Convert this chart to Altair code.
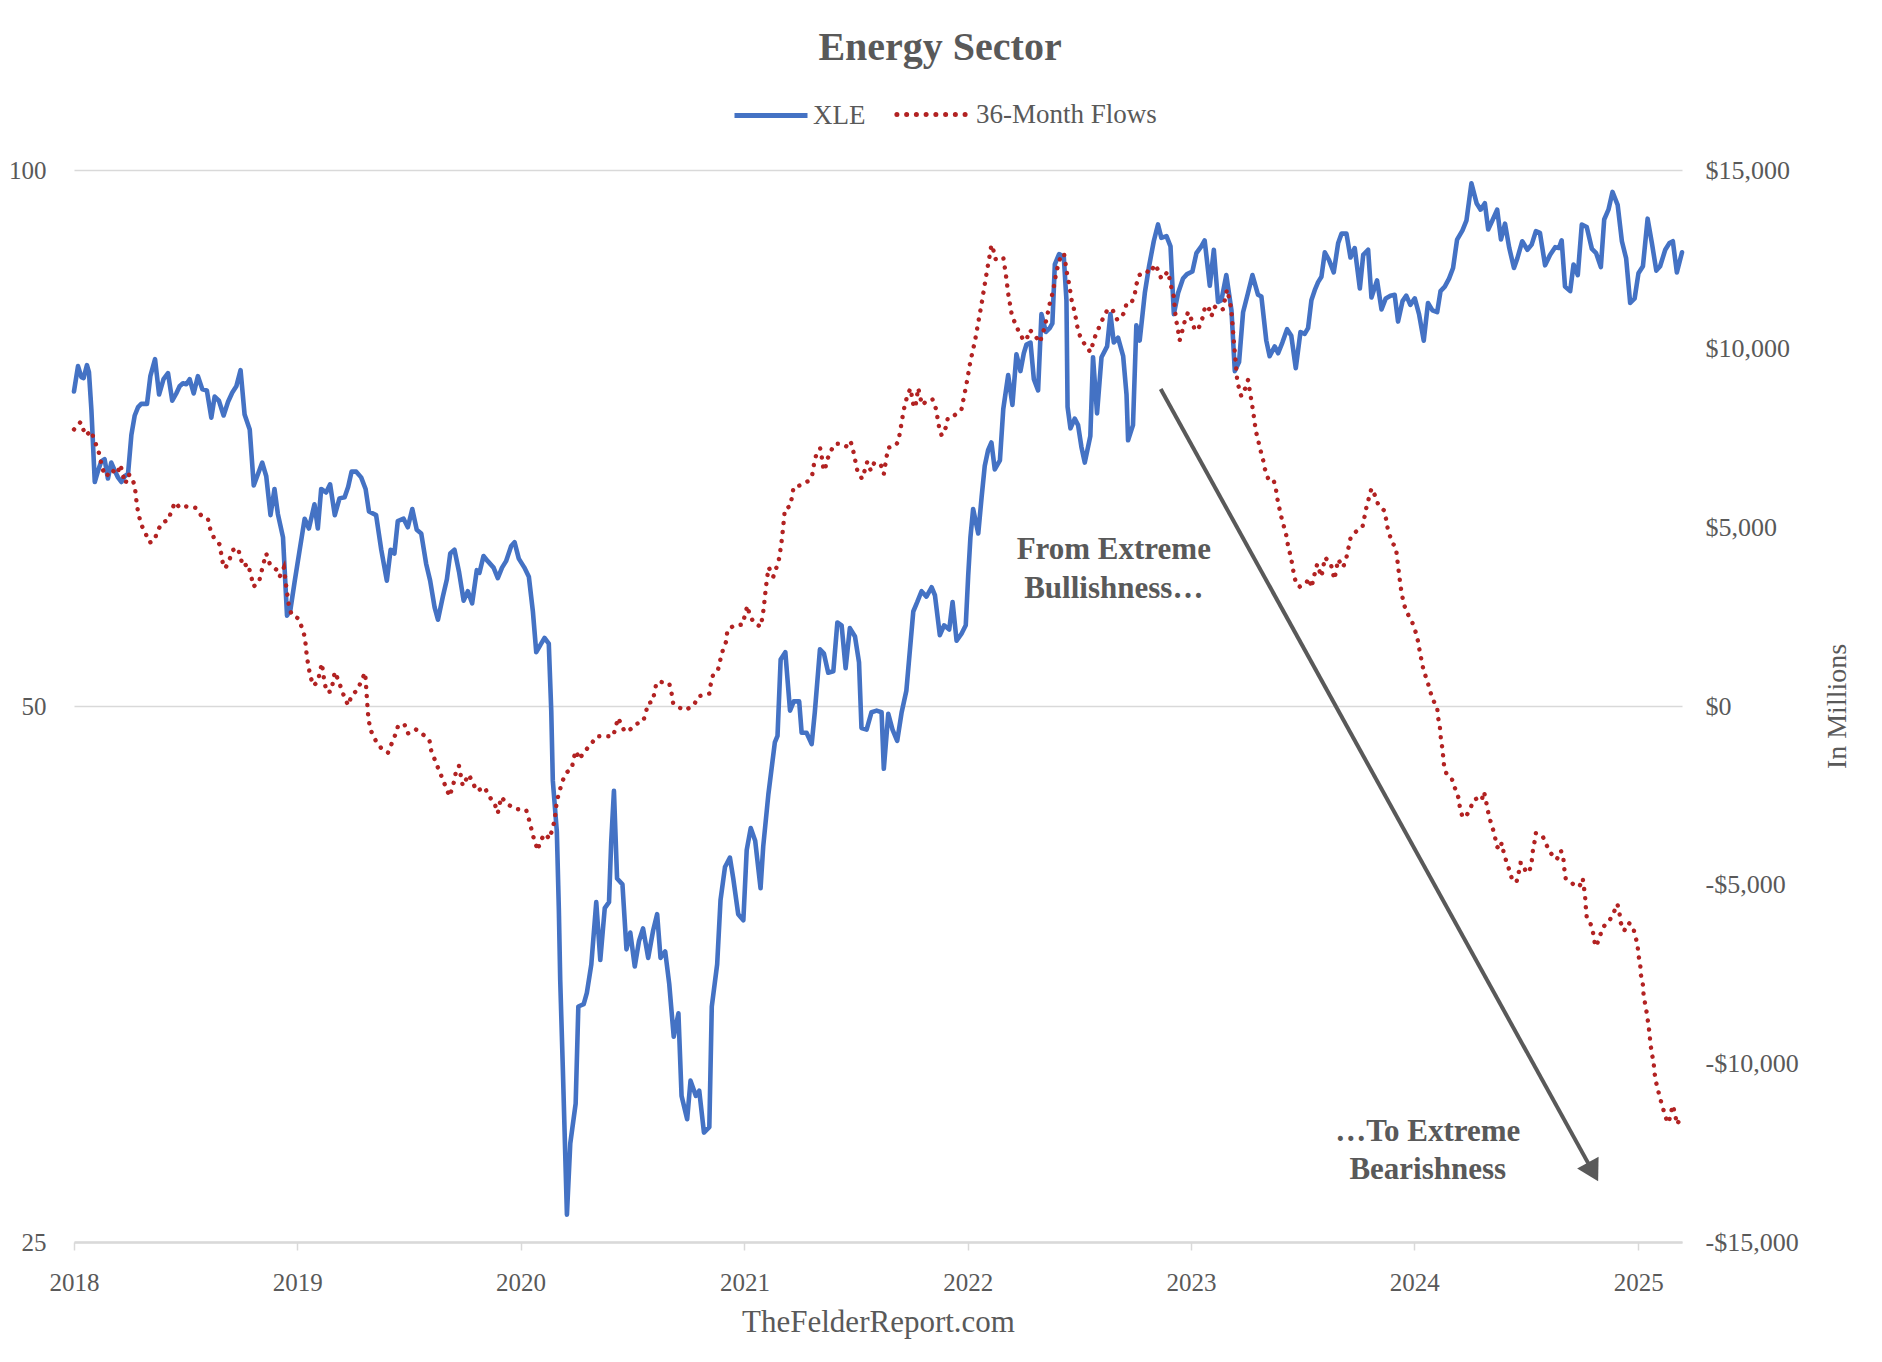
import altair as alt
import pandas as pd

# ---------------- data ----------------
# XLE price (left, log axis); (fractional year, value)
xle_points = [
    (2018.000, 75.1), (2018.018, 77.6), (2018.033, 76.5), (2018.043, 76.4), (2018.058, 77.7), (2018.067, 77.0),
    (2018.078, 73.3), (2018.093, 66.8), (2018.108, 67.8), (2018.122, 68.6), (2018.137, 68.8), (2018.152, 67.1),
    (2018.167, 68.5), (2018.182, 67.8), (2018.197, 67.2), (2018.212, 66.8), (2018.227, 67.3), (2018.242, 67.5),
    (2018.257, 71.0), (2018.272, 72.8), (2018.287, 73.6), (2018.301, 73.9), (2018.327, 73.9), (2018.342, 76.6),
    (2018.363, 78.3), (2018.381, 74.8), (2018.401, 76.3), (2018.421, 76.9), (2018.440, 74.2), (2018.458, 74.9),
    (2018.473, 75.6), (2018.488, 75.9), (2018.503, 75.8), (2018.518, 76.3), (2018.536, 74.9), (2018.555, 76.6),
    (2018.575, 75.3), (2018.595, 75.2), (2018.615, 72.6), (2018.630, 74.6), (2018.649, 74.2), (2018.670, 72.8),
    (2018.690, 74.1), (2018.709, 75.0), (2018.727, 75.6), (2018.746, 77.2), (2018.764, 72.9), (2018.787, 71.5),
    (2018.805, 66.5), (2018.824, 67.5), (2018.843, 68.5), (2018.861, 67.3), (2018.880, 64.0), (2018.898, 66.2),
    (2018.913, 64.1), (2018.936, 62.2), (2018.954, 56.2), (2018.969, 56.6), (2018.988, 58.7),
    (2019.010, 61.1), (2019.033, 63.7), (2019.052, 62.9), (2019.077, 64.9), (2019.092, 62.9), (2019.107, 66.2),
    (2019.129, 65.9), (2019.147, 66.6), (2019.168, 64.0), (2019.189, 65.4), (2019.212, 65.5), (2019.228, 66.4),
    (2019.243, 67.7), (2019.264, 67.7), (2019.286, 67.2), (2019.306, 66.2), (2019.321, 64.3), (2019.353, 64.0),
    (2019.376, 61.2), (2019.401, 58.8), (2019.418, 61.2), (2019.435, 60.9), (2019.450, 63.5), (2019.476, 63.7),
    (2019.495, 63.0), (2019.515, 64.5), (2019.535, 62.8), (2019.555, 62.5), (2019.577, 60.1), (2019.595, 58.8),
    (2019.615, 56.8), (2019.630, 55.9), (2019.652, 57.6), (2019.670, 58.9), (2019.685, 60.9), (2019.704, 61.2),
    (2019.724, 59.5), (2019.745, 57.3), (2019.764, 58.0), (2019.783, 57.1), (2019.804, 59.6), (2019.816, 59.4),
    (2019.834, 60.7), (2019.853, 60.3), (2019.879, 59.8), (2019.898, 59.0), (2019.917, 59.8), (2019.935, 60.3),
    (2019.958, 61.5), (2019.973, 61.8), (2019.992, 60.5),
    (2020.017, 59.8), (2020.037, 59.1), (2020.055, 56.5), (2020.070, 53.6), (2020.088, 54.1), (2020.107, 54.6),
    (2020.126, 54.2), (2020.137, 49.7), (2020.144, 45.4), (2020.162, 42.5), (2020.171, 38.4), (2020.177, 35.1),
    (2020.189, 31.2), (2020.207, 25.9), (2020.222, 28.4), (2020.246, 29.9), (2020.258, 33.9), (2020.282, 34.0),
    (2020.296, 34.5), (2020.316, 35.8), (2020.338, 38.8), (2020.356, 36.0), (2020.376, 38.5), (2020.395, 38.8),
    (2020.405, 42.0), (2020.417, 44.8), (2020.431, 40.0), (2020.455, 39.7), (2020.473, 36.5), (2020.490, 37.3),
    (2020.510, 35.7), (2020.529, 36.9), (2020.547, 37.5), (2020.570, 36.1), (2020.592, 37.4), (2020.610, 38.2),
    (2020.625, 36.1), (2020.646, 36.4), (2020.664, 34.9), (2020.684, 32.6), (2020.705, 33.6), (2020.719, 30.2),
    (2020.744, 29.3), (2020.759, 30.8), (2020.783, 30.2), (2020.798, 30.4), (2020.819, 28.8), (2020.843, 29.0),
    (2020.854, 33.9), (2020.878, 35.8), (2020.893, 38.9), (2020.913, 40.6), (2020.935, 41.1), (2020.950, 40.0),
    (2020.972, 38.2), (2020.995, 37.9),
    (2021.010, 41.5), (2021.028, 42.7), (2021.048, 42.0), (2021.072, 39.5), (2021.084, 41.7), (2021.107, 44.6),
    (2021.136, 47.7), (2021.148, 48.1), (2021.162, 53.1), (2021.183, 53.6), (2021.204, 49.7), (2021.221, 50.3),
    (2021.245, 50.3), (2021.256, 48.3), (2021.278, 48.3), (2021.301, 47.6), (2021.315, 49.6), (2021.338, 53.8),
    (2021.356, 53.5), (2021.375, 52.2), (2021.398, 52.3), (2021.416, 55.7), (2021.435, 55.5), (2021.453, 52.5),
    (2021.472, 55.3), (2021.495, 54.7), (2021.513, 52.9), (2021.524, 48.6), (2021.547, 48.5), (2021.569, 49.6),
    (2021.592, 49.7), (2021.614, 49.6), (2021.624, 46.1), (2021.644, 49.5), (2021.663, 48.5), (2021.684, 47.8),
    (2021.704, 49.6), (2021.725, 51.0), (2021.756, 56.5), (2021.774, 57.2), (2021.793, 58.0), (2021.815, 57.6),
    (2021.838, 58.3), (2021.853, 57.7), (2021.875, 54.8), (2021.894, 55.5), (2021.917, 55.2), (2021.932, 57.2),
    (2021.950, 54.4), (2021.972, 54.9), (2021.991, 55.5),
    (2022.002, 59.2), (2022.012, 62.2), (2022.024, 64.5), (2022.047, 62.5), (2022.062, 65.5), (2022.076, 68.2),
    (2022.091, 69.6), (2022.106, 70.3), (2022.121, 67.9), (2022.144, 68.7), (2022.159, 73.4), (2022.181, 76.7),
    (2022.200, 73.8), (2022.218, 78.8), (2022.236, 77.1), (2022.251, 78.9), (2022.263, 79.8), (2022.281, 80.0),
    (2022.296, 76.3), (2022.315, 75.2), (2022.330, 83.0), (2022.350, 81.1), (2022.367, 81.5), (2022.379, 82.0),
    (2022.390, 88.5), (2022.409, 89.7), (2022.430, 89.4), (2022.442, 84.5), (2022.447, 73.6), (2022.460, 71.6),
    (2022.479, 72.5), (2022.494, 71.9), (2022.509, 69.9), (2022.524, 68.5), (2022.549, 70.9), (2022.561, 78.5),
    (2022.579, 73.0), (2022.599, 78.5), (2022.624, 79.6), (2022.639, 83.0), (2022.654, 80.0), (2022.673, 80.5),
    (2022.696, 78.6), (2022.711, 74.8), (2022.718, 70.5), (2022.740, 71.9), (2022.755, 81.8), (2022.770, 80.2),
    (2022.793, 85.3), (2022.812, 88.3), (2022.833, 91.2), (2022.852, 93.2), (2022.867, 91.6), (2022.890, 91.8),
    (2022.908, 90.6), (2022.923, 83.0), (2022.942, 85.3), (2022.964, 86.9), (2022.982, 87.4),
    (2023.006, 87.7), (2023.024, 89.8), (2023.046, 90.6), (2023.061, 91.3), (2023.084, 86.1), (2023.102, 90.2),
    (2023.121, 84.3), (2023.136, 84.5), (2023.158, 87.3), (2023.181, 83.4), (2023.196, 77.1), (2023.215, 78.0),
    (2023.233, 83.2), (2023.255, 85.3), (2023.275, 87.3), (2023.300, 85.1), (2023.315, 84.9), (2023.337, 80.2),
    (2023.352, 78.6), (2023.375, 79.6), (2023.390, 78.9), (2023.409, 80.0), (2023.430, 81.4), (2023.449, 80.7),
    (2023.469, 77.4), (2023.490, 81.1), (2023.509, 80.9), (2023.524, 81.5), (2023.539, 84.5), (2023.554, 85.6),
    (2023.569, 86.5), (2023.584, 87.1), (2023.599, 89.9), (2023.618, 89.0), (2023.639, 87.6), (2023.659, 91.0),
    (2023.674, 92.1), (2023.696, 92.1), (2023.714, 89.3), (2023.733, 90.4), (2023.756, 85.8), (2023.771, 89.6),
    (2023.793, 90.2), (2023.808, 84.8), (2023.833, 86.7), (2023.853, 83.5), (2023.872, 84.7), (2023.893, 85.0),
    (2023.912, 85.1), (2023.927, 82.2), (2023.947, 84.4), (2023.964, 85.0), (2023.982, 84.0),
    (2024.002, 84.7), (2024.021, 83.0), (2024.042, 80.2), (2024.061, 84.2), (2024.081, 83.4), (2024.102, 83.2),
    (2024.117, 85.5), (2024.136, 86.0), (2024.155, 86.9), (2024.173, 88.1), (2024.191, 91.4), (2024.215, 92.5),
    (2024.233, 93.7), (2024.255, 98.3), (2024.278, 95.8), (2024.296, 95.0), (2024.315, 95.8), (2024.330, 92.6),
    (2024.349, 93.7), (2024.370, 95.0), (2024.387, 91.4), (2024.405, 93.3), (2024.424, 90.4), (2024.445, 88.1),
    (2024.460, 89.2), (2024.482, 91.2), (2024.505, 90.2), (2024.524, 90.8), (2024.543, 92.4), (2024.561, 92.2),
    (2024.584, 88.4), (2024.606, 89.6), (2024.629, 90.5), (2024.646, 90.4), (2024.658, 91.3), (2024.673, 86.0),
    (2024.696, 85.5), (2024.711, 88.5), (2024.730, 87.3), (2024.748, 93.2), (2024.770, 92.9), (2024.793, 90.3),
    (2024.812, 89.8), (2024.833, 88.2), (2024.848, 93.8), (2024.867, 95.0), (2024.885, 97.2), (2024.908, 95.6),
    (2024.927, 91.2), (2024.946, 89.2), (2024.964, 84.2), (2024.984, 84.7),
    (2025.001, 87.5), (2025.021, 88.3), (2025.042, 93.9), (2025.061, 91.0), (2025.081, 87.8), (2025.098, 88.3),
    (2025.121, 90.2), (2025.140, 91.0), (2025.155, 91.2), (2025.173, 87.6), (2025.196, 89.9),
]

# 36-month flows in $ millions (right axis); (fractional year, value)
flow_points = [
    (2018.000, 7739), (2018.029, 7945), (2018.052, 7572), (2018.078, 7699), (2018.090, 7444), (2018.108, 7178),
    (2018.118, 6913), (2018.127, 6637), (2018.145, 6421), (2018.167, 6618), (2018.193, 6490), (2018.208, 6755),
    (2018.222, 6391), (2018.231, 6224), (2018.242, 6490), (2018.257, 6421), (2018.272, 6165), (2018.282, 5605),
    (2018.290, 5339), (2018.302, 5064), (2018.321, 4818), (2018.339, 4572), (2018.361, 4641), (2018.373, 4896),
    (2018.396, 5132), (2018.424, 5211), (2018.436, 5477), (2018.454, 5703), (2018.473, 5546), (2018.503, 5585),
    (2018.545, 5546), (2018.570, 5329), (2018.600, 5231), (2018.610, 4955), (2018.627, 4700), (2018.652, 4523),
    (2018.667, 3982), (2018.678, 3854), (2018.697, 4110), (2018.712, 4365), (2018.734, 4424), (2018.757, 3903),
    (2018.779, 3982), (2018.794, 3618), (2018.804, 3343), (2018.828, 3460), (2018.849, 4001), (2018.861, 4267),
    (2018.876, 3992), (2018.906, 3815), (2018.921, 3618), (2018.940, 3874), (2018.951, 3323), (2018.963, 2772),
    (2018.976, 2536),
    (2019.003, 2457), (2019.021, 2192), (2019.034, 1926), (2019.043, 1375), (2019.058, 835), (2019.073, 569),
    (2019.092, 687), (2019.110, 1198), (2019.122, 648), (2019.133, 382), (2019.152, 412), (2019.168, 953),
    (2019.182, 746), (2019.197, 490), (2019.212, 225), (2019.228, 18), (2019.243, 294), (2019.271, 461),
    (2019.288, 726), (2019.304, 933), (2019.310, 382), (2019.316, -169), (2019.321, -444), (2019.331, -709),
    (2019.351, -965), (2019.376, -1182), (2019.406, -1309), (2019.440, -788), (2019.452, -542), (2019.480, -513),
    (2019.495, -768), (2019.530, -650), (2019.565, -808), (2019.592, -965), (2019.600, -1250), (2019.622, -1604),
    (2019.649, -2017), (2019.682, -2529), (2019.700, -2165), (2019.709, -1890), (2019.724, -1673), (2019.741, -2234),
    (2019.768, -1919), (2019.804, -2381), (2019.839, -2270), (2019.858, -2522), (2019.883, -2715), (2019.898, -2998),
    (2019.913, -2548), (2019.943, -2754), (2019.977, -2882),
    (2020.025, -2908), (2020.037, -3166), (2020.058, -3680), (2020.077, -4041), (2020.088, -3771), (2020.110, -3578),
    (2020.129, -3720), (2020.141, -3462), (2020.152, -3204), (2020.162, -2651), (2020.174, -2393), (2020.186, -2110),
    (2020.207, -1853), (2020.229, -1750), (2020.237, -1453), (2020.249, -1260), (2020.261, -1492), (2020.286, -1273),
    (2020.316, -1054), (2020.341, -848), (2020.380, -848), (2020.413, -848), (2020.425, -591), (2020.435, -333),
    (2020.447, -475), (2020.465, -720), (2020.490, -655), (2020.517, -501), (2020.547, -436), (2020.559, -204),
    (2020.569, 79), (2020.589, 117), (2020.599, 401), (2020.607, 658), (2020.629, 671), (2020.664, 632),
    (2020.674, 375), (2020.681, 92), (2020.704, -37), (2020.737, -114), (2020.774, 27), (2020.795, 272),
    (2020.823, 311), (2020.843, 349), (2020.850, 632), (2020.860, 877), (2020.883, 1044), (2020.893, 1315),
    (2020.905, 1598), (2020.920, 1830), (2020.923, 2113), (2020.953, 2255), (2020.992, 2280),
    (2021.002, 2551), (2021.013, 2808), (2021.022, 2577), (2021.040, 2345), (2021.072, 2216), (2021.081, 2499),
    (2021.087, 2782), (2021.096, 3323), (2021.102, 3607), (2021.108, 3877), (2021.117, 3787), (2021.129, 3619),
    (2021.144, 3890), (2021.156, 4147), (2021.168, 4690), (2021.177, 5240), (2021.181, 5520), (2021.204, 5586),
    (2021.213, 5856), (2021.220, 6127), (2021.248, 6173), (2021.286, 6295), (2021.304, 6490), (2021.311, 6761),
    (2021.321, 7022), (2021.339, 7209), (2021.347, 6938), (2021.353, 6668), (2021.360, 6584), (2021.368, 6845),
    (2021.383, 7106), (2021.407, 7340), (2021.436, 7340), (2021.457, 7265), (2021.475, 7414), (2021.487, 7144),
    (2021.496, 6873), (2021.505, 6602), (2021.526, 6360), (2021.538, 6584), (2021.550, 6836), (2021.566, 6584),
    (2021.581, 6808), (2021.610, 6761), (2021.624, 6491), (2021.636, 6957), (2021.644, 7228), (2021.674, 7275),
    (2021.689, 7396), (2021.704, 7937), (2021.711, 8208), (2021.720, 8478), (2021.733, 8749), (2021.744, 8889),
    (2021.751, 8609), (2021.759, 8348), (2021.766, 8394), (2021.778, 8900), (2021.795, 8422), (2021.821, 8562),
    (2021.842, 8581), (2021.857, 8329), (2021.865, 8049), (2021.872, 7788), (2021.883, 7573), (2021.902, 7797),
    (2021.911, 8068), (2021.942, 8142), (2021.972, 8301), (2021.980, 8562), (2021.989, 8842), (2021.997, 9102),
    (2022.012, 9653), (2022.032, 10204), (2022.047, 10735), (2022.062, 11256), (2022.076, 11796), (2022.091, 12357),
    (2022.099, 12638), (2022.106, 12908), (2022.114, 12778), (2022.124, 12507), (2022.159, 12558), (2022.171, 12057),
    (2022.182, 11506), (2022.197, 10955), (2022.212, 10705), (2022.229, 10474), (2022.251, 10224), (2022.263, 10254),
    (2022.278, 10525), (2022.300, 10374), (2022.323, 10174), (2022.341, 10535), (2022.353, 10835), (2022.367, 11256),
    (2022.382, 11606), (2022.397, 12157), (2022.409, 12427), (2022.420, 12658), (2022.432, 12628), (2022.445, 12087),
    (2022.454, 11807), (2022.466, 11326), (2022.478, 11055), (2022.494, 10505), (2022.509, 10254), (2022.532, 10054),
    (2022.549, 9904), (2022.561, 10154), (2022.573, 10394), (2022.591, 10635), (2022.609, 10895), (2022.629, 11125),
    (2022.651, 11055), (2022.669, 10815), (2022.681, 10825), (2022.699, 10995), (2022.711, 11256), (2022.733, 11276),
    (2022.748, 11526), (2022.755, 11796), (2022.770, 12067), (2022.800, 12177), (2022.818, 12107), (2022.837, 12357),
    (2022.852, 12207), (2022.867, 11957), (2022.882, 12057), (2022.897, 12157), (2022.912, 11706), (2022.923, 11456),
    (2022.928, 11055), (2022.934, 10775), (2022.942, 10505), (2022.949, 10234), (2022.961, 10505), (2022.972, 10775),
    (2022.987, 11025),
    (2023.006, 10755), (2023.017, 10505), (2023.036, 10605), (2023.051, 10855), (2023.061, 11125), (2023.076, 11206),
    (2023.091, 10905), (2023.106, 11175), (2023.125, 11075), (2023.143, 11105), (2023.161, 11656), (2023.173, 11356),
    (2023.181, 11055), (2023.191, 10254), (2023.200, 9603), (2023.206, 9173), (2023.215, 8872), (2023.225, 8672),
    (2023.240, 8852), (2023.255, 9122), (2023.263, 8822), (2023.270, 8552), (2023.278, 8251), (2023.290, 7700),
    (2023.300, 7450), (2023.310, 7180), (2023.322, 6909), (2023.330, 6649), (2023.345, 6368), (2023.367, 6368),
    (2023.379, 6128), (2023.385, 5847), (2023.394, 5577), (2023.404, 5297), (2023.415, 5046), (2023.427, 4766),
    (2023.434, 4496), (2023.445, 4215), (2023.454, 3945), (2023.460, 3694), (2023.472, 3394), (2023.487, 3340),
    (2023.504, 3394), (2023.514, 3431), (2023.529, 3571), (2023.539, 3310), (2023.554, 3711), (2023.565, 3972),
    (2023.584, 3618), (2023.600, 4159), (2023.626, 3972), (2023.642, 3543), (2023.659, 4103), (2023.681, 3879),
    (2023.696, 4159), (2023.714, 4690), (2023.738, 4877), (2023.768, 5017), (2023.785, 5549), (2023.808, 6090),
    (2023.823, 5903), (2023.838, 5642), (2023.867, 5456), (2023.882, 4924), (2023.902, 4551), (2023.917, 4457),
    (2023.927, 3925), (2023.938, 3366), (2023.945, 3097), (2023.954, 2829), (2023.972, 2560), (2023.991, 2335),
    (2024.006, 2067), (2024.017, 1799), (2024.024, 1530), (2024.033, 1251), (2024.042, 972), (2024.057, 725),
    (2024.069, 457), (2024.081, 200), (2024.102, -47), (2024.106, -315), (2024.114, -594), (2024.118, -873),
    (2024.124, -1141), (2024.129, -1420), (2024.133, -1689), (2024.144, -1903), (2024.167, -2032), (2024.181, -2290),
    (2024.196, -2547), (2024.203, -2815), (2024.214, -3084), (2024.226, -3127), (2024.248, -2912), (2024.263, -2644),
    (2024.278, -2590), (2024.300, -2654), (2024.311, -2397), (2024.318, -2590), (2024.326, -2848), (2024.335, -3127),
    (2024.349, -3395), (2024.360, -3663), (2024.370, -3942), (2024.382, -4017), (2024.390, -3835), (2024.400, -4124),
    (2024.412, -4371), (2024.427, -4640), (2024.439, -4908), (2024.457, -4908), (2024.467, -4640), (2024.475, -4393),
    (2024.484, -4393), (2024.499, -4661), (2024.514, -4629), (2024.524, -4371), (2024.528, -4103), (2024.536, -3835),
    (2024.543, -3556), (2024.573, -3642), (2024.591, -3899), (2024.610, -4124), (2024.636, -4296), (2024.655, -4049),
    (2024.666, -4296), (2024.670, -4564), (2024.676, -4822), (2024.703, -4951), (2024.725, -5069), (2024.740, -5015),
    (2024.752, -4822), (2024.758, -5090), (2024.763, -5358), (2024.766, -5637), (2024.770, -5916), (2024.785, -6056),
    (2024.797, -6292), (2024.803, -6560), (2024.812, -6732), (2024.827, -6474), (2024.842, -6195), (2024.872, -6002),
    (2024.893, -5745), (2024.907, -5541), (2024.916, -5788), (2024.922, -6067), (2024.937, -6292), (2024.957, -6067),
    (2024.976, -6174), (2024.987, -6431), (2024.997, -6700),
    (2025.001, -6968), (2025.009, -7247), (2025.012, -7526), (2025.021, -7805), (2025.024, -8084), (2025.031, -8341),
    (2025.039, -8620), (2025.045, -8899), (2025.051, -9178), (2025.054, -9436), (2025.061, -9715), (2025.069, -9994),
    (2025.073, -10273), (2025.080, -10530), (2025.091, -10809), (2025.102, -11067), (2025.114, -11324),
    (2025.128, -11603), (2025.136, -11668), (2025.146, -11389), (2025.155, -11174), (2025.166, -11453),
    (2025.173, -11711), (2025.188, -11560),
]

series_names = ["XLE", "36-Month Flows"]
series_colors = ["#4472C4", "#B22222"]
year_ticks = [2018, 2019, 2020, 2021, 2022, 2023, 2024, 2025]
left_ticks = [25, 50, 100]
right_ticks = [-15000, -10000, -5000, 0, 5000, 10000, 15000]

chart_title = "Energy Sector"
source_label = "TheFelderReport.com"
right_axis_title = "In Millions"

# annotation text rows (fractional year, flow value, text)
note_years = [2022.654, 2022.654, 2024.060, 2024.060]
note_flows = [4104, 3013, -12176, -13230]
note_texts = ["From Extreme", "Bullishness…", "…To Extreme", "Bearishness"]

# arrow: start and arrow-head centre (fractional year, flow value)
arrow_years = [2022.864, 2024.798]
arrow_flows = [8870, -13038]

# ---------------- helpers ----------------
def year_to_iso(f):
    y = int(f)
    start = pd.Timestamp(year=y, month=1, day=1)
    end = pd.Timestamp(year=y + 1, month=1, day=1)
    ts = start + (end - start) * (f - y)
    return ts.strftime("%Y-%m-%dT%H:%M:%S")

xle_df = pd.DataFrame({
    "date": [year_to_iso(p[0]) for p in xle_points],
    "value": [p[1] for p in xle_points],
    "series": series_names[0],
})
flow_df = pd.DataFrame({
    "date": [year_to_iso(p[0]) for p in flow_points],
    "value": [p[1] for p in flow_points],
    "series": series_names[1],
})
notes_df = pd.DataFrame({
    "date": [year_to_iso(v) for v in note_years],
    "value": note_flows,
    "text": note_texts,
})
arrow_df = pd.DataFrame({
    "date": [year_to_iso(arrow_years[0])], "date2": [year_to_iso(arrow_years[1])],
    "value": [arrow_flows[0]], "value2": [arrow_flows[1]],
})
head_df = pd.DataFrame({"date": [year_to_iso(arrow_years[1])], "value": [arrow_flows[1]]})

FONT = "Liberation Serif"
GREY = "#595959"
GRID = "#D9D9D9"

x_scale = alt.Scale(
    domain=[alt.DateTime(year=2018, month=1, date=1), alt.DateTime(year=2025, month=3, date=13, hours=13)],
    nice=False,
)
x_axis = alt.Axis(
    values=[alt.DateTime(year=y, month=1, date=1) for y in year_ticks],
    format="%Y", labelFont=FONT, labelFontSize=25, labelColor=GREY, labelPadding=20,
    labelFlush=False, labelOverlap=False,
    ticks=True, tickColor=GRID, tickSize=8, tickWidth=1.5,
    domain=True, domainColor=GRID, domainWidth=2.5, grid=False,
    title=source_label, titleFont=FONT, titleFontSize=31, titleFontWeight="normal",
    titleColor=GREY, titleY=80, titleBaseline="middle",
)
flow_scale = alt.Scale(domain=[-15000, 15000], nice=False, zero=False)
flow_axis = alt.Axis(
    orient="right", values=right_ticks,
    labelExpr="(datum.value < 0 ? '-' : '') + '$' + format(abs(datum.value), ',')",
    labelFont=FONT, labelFontSize=26, labelColor=GREY, labelPadding=23,
    ticks=False, tickSize=0, domain=False, grid=False, labelFlush=False,
    title=right_axis_title, titleFont=FONT, titleFontSize=28, titleFontWeight="normal",
    titleColor=GREY, titleAngle=270, titleX=155, titleY=536,
    titleAlign="center", titleBaseline="middle",
)

# legend symbol for the dotted series: a row of small round dots
dot_r = 0.035
dot_centres = [-0.934 + i * 0.2669 for i in range(8)]
dots_path = "".join(
    f"M{c - dot_r:.4f},0A{dot_r},{dot_r} 0 1,0 {c + dot_r:.4f},0A{dot_r},{dot_r} 0 1,0 {c - dot_r:.4f},0Z"
    for c in dot_centres
)

legend_common = dict(
    orient="none", direction="horizontal", title=None, symbolSize=5329, labelLimit=0,
    labelFont=FONT, labelFontSize=27, labelColor=GREY, legendY=-93.5,
)

X = alt.X("date:T", scale=x_scale, axis=x_axis)
Y_FLOW = alt.Y("value:Q", scale=flow_scale, axis=flow_axis)

xle_line = alt.Chart(xle_df).mark_line(strokeWidth=4.6, strokeJoin="round", strokeCap="round").encode(
    x=X,
    y=alt.Y("value:Q",
            scale=alt.Scale(type="log", domain=[25, 100], nice=False),
            axis=alt.Axis(orient="left", values=left_ticks, format="d", labelFont=FONT, labelFontSize=25,
                          labelColor=GREY, labelPadding=28, ticks=False, tickSize=0, domain=False,
                          grid=True, gridColor=GRID, gridWidth=1.5, title=None, labelFlush=False)),
    color=alt.Color("series:N", scale=alt.Scale(domain=[series_names[0]], range=[series_colors[0]]),
                    legend=alt.Legend(legendX=658, symbolType="stroke", symbolStrokeWidth=4.8,
                                      labelOffset=3, **legend_common)),
)

flow_line = alt.Chart(flow_df).mark_line(strokeWidth=4.4, strokeCap="round", strokeDash=[0.1, 9]).encode(
    x=X,
    y=Y_FLOW,
    color=alt.Color("series:N", scale=alt.Scale(domain=[series_names[1]], range=[series_colors[1]]),
                    legend=alt.Legend(legendX=819, symbolType=dots_path, symbolStrokeWidth=2.5,
                                      labelOffset=7, **legend_common)),
)

notes = alt.Chart(notes_df).mark_text(
    font=FONT, fontSize=31, fontWeight="bold", color=GREY, align="center", baseline="alphabetic"
).encode(x=X, y=Y_FLOW, text="text:N")

arrow_rule = alt.Chart(arrow_df).mark_rule(color=GREY, strokeWidth=4).encode(
    x=X, x2="date2:T", y=Y_FLOW, y2="value2:Q",
)

arrow_head = alt.Chart(head_df).mark_point(
    shape="triangle-up", filled=True, size=600, angle=151, color=GREY, opacity=1
).encode(x=X, y=Y_FLOW)

flows_group = alt.layer(flow_line, notes, arrow_rule, arrow_head)

chart = alt.layer(xle_line, flows_group).resolve_scale(
    y="independent", color="independent"
).properties(
    width=1608, height=1072,
    padding={"left": 66, "top": 162, "right": 192, "bottom": 112},
    autosize=alt.AutoSizeParams(type="none"),
    title=alt.TitleParams(chart_title, font=FONT, fontSize=40, fontWeight="bold", color=GREY,
                          anchor="middle", offset=9, dx=62),
).configure_view(stroke=None)

chart.save("out.html", embed_options={"renderer": "svg", "actions": False})
